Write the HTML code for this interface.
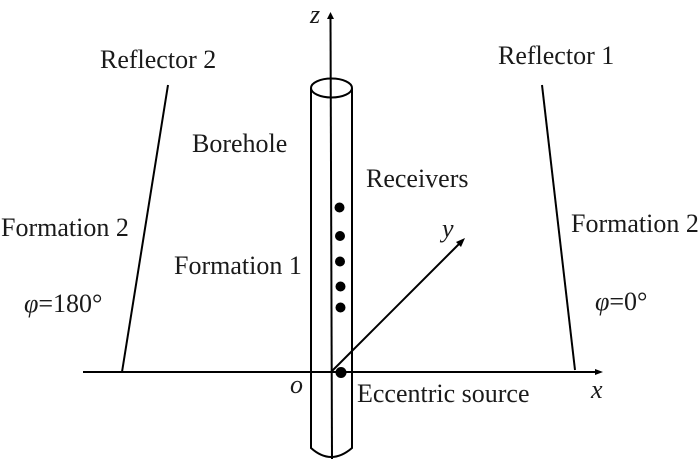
<!DOCTYPE html>
<html>
<head>
<meta charset="utf-8">
<style>
html,body{margin:0;padding:0;background:#fff;width:700px;height:459px;overflow:hidden}
svg{display:block}
text{font-family:"Liberation Serif",serif;font-size:26px;fill:#1a1a1a}
.i{font-style:italic}
</style>
</head>
<body>
<svg width="700" height="459" viewBox="0 0 700 459" xmlns="http://www.w3.org/2000/svg">
<g fill="none" stroke="#000" stroke-width="2">
<ellipse cx="331.5" cy="88" rx="20.5" ry="9.5"/>
<path d="M311 88V448Q331 466 352 448V88"/>
<path d="M330.5 18L332 459"/>
<path d="M83 372H597"/>
<path d="M168 85L122 372"/>
<path d="M542 85L575 370"/>
<path d="M331 372L460 243"/>
</g>
<polygon points="330.5,12 327,19 334,19" fill="#000"/>
<polygon points="603,372 595,369 595,375" fill="#000"/>
<polygon points="465,238 456,242 461,247" fill="#000"/>
<g fill="#000">
<circle cx="339.5" cy="207.5" r="5"/>
<circle cx="340" cy="236" r="5"/>
<circle cx="340" cy="261.5" r="5"/>
<circle cx="340.5" cy="286.5" r="5"/>
<circle cx="340.5" cy="307.5" r="5"/>
<circle cx="341" cy="372.5" r="5.5"/>
</g>
<text x="100" y="68">Reflector 2</text>
<text x="498" y="64">Reflector 1</text>
<text x="192" y="152">Borehole</text>
<text x="366" y="187">Receivers</text>
<text x="1" y="236">Formation 2</text>
<text x="571" y="232">Formation 2</text>
<text x="174" y="274">Formation 1</text>
<text x="24" y="312"><tspan class="i">φ</tspan>=180°</text>
<text x="595" y="310"><tspan class="i">φ</tspan>=0°</text>
<text x="357" y="402">Eccentric source</text>
<text class="i" x="310" y="23">z</text>
<text class="i" x="442" y="237">y</text>
<text class="i" x="290" y="393">o</text>
<text class="i" x="591" y="398">x</text>
</svg>
</body>
</html>
